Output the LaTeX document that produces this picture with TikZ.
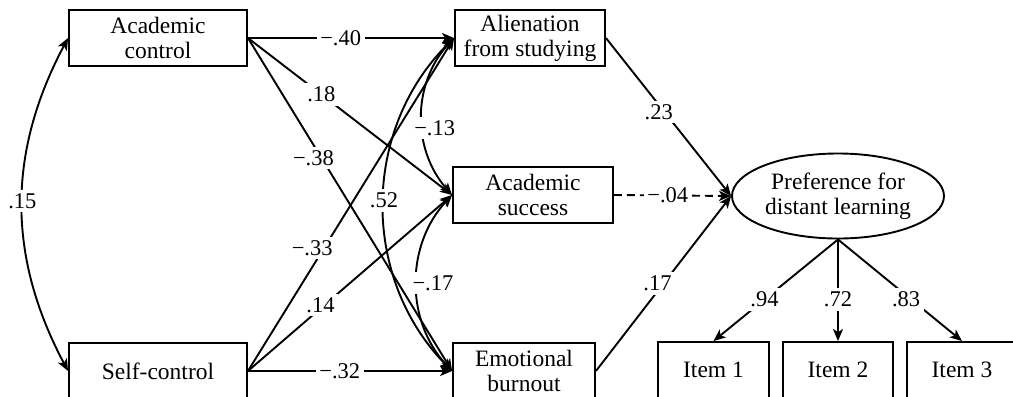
\documentclass[tikz,border=0pt]{standalone}
\usepackage{fontspec}
\setmainfont{Liberation Serif}
\usetikzlibrary{shapes.geometric,arrows.meta}
\begin{document}
\begin{tikzpicture}[x=1bp,y=-1bp,
  line width=1.9bp,
  box/.style={draw,rectangle,minimum height=56bp,inner sep=0pt,align=center,
    font=\fontsize{23.5bp}{25bp}\selectfont},
  oval/.style={draw,ellipse,minimum width=212bp,minimum height=85bp,inner sep=0pt,align=center,
    font=\fontsize{23.5bp}{25bp}\selectfont},
  arr/.style={-{Stealth[length=12bp,width=10bp,inset=3bp]}},
  darr/.style={{Stealth[length=12bp,width=10bp,inset=3bp]}-{Stealth[length=12bp,width=10bp,inset=3bp]}},
  lbl/.style={fill=white,inner sep=3.5bp,font=\fontsize{22.5bp}{24bp}\selectfont},
  dsh/.style={dash pattern=on 8bp off 5bp}]
\clip (0,0) rectangle (1013,396);
\fill[white] (0,0) rectangle (1013,396);
% nodes
\node[box,minimum width=178bp] (ac) at (158,38) {Academic\\control};
\node[box,minimum width=178bp] (sc) at (158,371) {Self-control};
\node[box,minimum width=150bp] (al) at (530,38) {Alienation\\from studying};
\node[box,minimum width=160bp] (as) at (533,195) {Academic\\success};
\node[box,minimum width=142bp] (eb) at (524,371) {Emotional\\burnout};
\node[oval] (pf) at (838,196) {Preference for\\distant learning};
\node[box,minimum width=111bp] (i1) at (713.5,370) {Item 1};
\node[box,minimum width=110bp] (i2) at (838,370) {Item 2};
\node[box,minimum width=110bp] (i3) at (962,370) {Item 3};
% straight paths
\draw[arr] (ac.east) -- node[lbl,pos=0.45]{−.40} (al.west);
\draw[arr] (ac.east) -- node[lbl,pos=0.36]{.18} (as.west);
\draw[arr] (ac.east) -- node[lbl,pos=0.36,xshift=-8bp]{−.38} (eb.west);
\draw[arr] (sc.east) -- node[lbl,pos=0.37,xshift=-12bp]{−.33} (al.west);
\draw[arr] (sc.east) -- node[lbl,pos=0.375,xshift=-4bp]{.14} (as.west);
\draw[arr] (sc.east) -- node[lbl,pos=0.45]{−.32} (eb.west);
% correlations
\draw[darr] (ac.west) to[bend right=28] node[lbl,pos=0.49]{.15} (sc.west);
\draw[darr] (al.west) to[bend right=45] node[lbl,pos=0.49]{.52} (eb.west);
\draw[darr] (al.west) to[bend right=42] node[lbl,pos=0.57,xshift=12bp]{−.13} (as.west);
\draw[darr] (as.west) to[bend right=43] node[lbl,pos=0.5,xshift=16bp]{−.17} (eb.west);
% to latent
\draw[arr] (al.east) -- node[lbl,pos=0.47,xshift=-6bp]{.23} (pf.west);
\draw[arr,dsh] (as.east) -- node[lbl,pos=0.46]{−.04} (pf.west);
\draw[arr] (eb.east) -- node[lbl,pos=0.5,xshift=-6bp]{.17} (pf.west);
% loadings
\draw[arr] (pf.south) -- node[lbl,pos=0.59]{.94} (i1.north);
\draw[arr] (pf.south) -- node[lbl,pos=0.59]{.72} (i2.north);
\draw[arr] (pf.south) -- node[lbl,pos=0.59,xshift=-5bp]{.83} (i3.north);
\end{tikzpicture}
\end{document}
